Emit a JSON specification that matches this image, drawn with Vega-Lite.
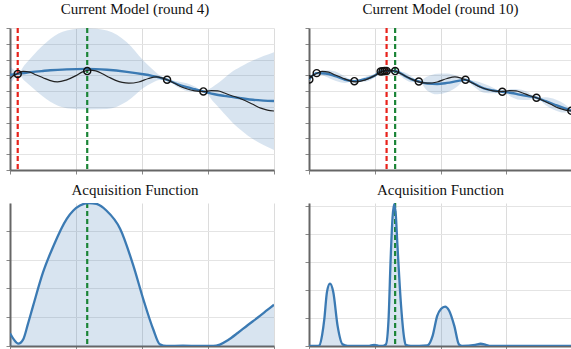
{
  "$schema": "https://vega.github.io/schema/vega-lite/v6.json",
  "background": "white",
  "padding": {"left": 5, "top": 1, "right": 0, "bottom": 0},
  "config": {
    "view": {"stroke": null},
    "axis": {"labels": false, "title": null, "tickSize": 4, "domainColor": "#666", "domainWidth": 2, "tickColor": "#888", "grid": true},
    "axisX": {"gridColor": "#dcdcdc"},
    "axisY": {"gridColor": "#e4e4e4"},
    "title": {"font": "Liberation Serif", "fontSize": 15, "fontWeight": "normal", "color": "#111"},
    "style": {"group-title": {"font": "Liberation Serif", "fontSize": 15, "fontWeight": "normal", "fill": "#111"}}
  },
  "datasets": {
    "truth": [
      {"x":0,"y":5.80},{"x":0.06,"y":6.0},{"x":0.117,"y":6.12},{"x":0.2,"y":6.25},{"x":0.3,"y":6.2},{"x":0.4,"y":6.02},{"x":0.5,"y":5.85},{"x":0.6,"y":5.68},{"x":0.72,"y":5.58},{"x":0.85,"y":5.7},{"x":1.0,"y":5.98},{"x":1.1,"y":6.22},{"x":1.2,"y":6.33},{"x":1.3,"y":6.28},{"x":1.4,"y":6.1},{"x":1.5,"y":5.88},{"x":1.6,"y":5.68},{"x":1.7,"y":5.55},{"x":1.8,"y":5.5},{"x":1.95,"y":5.58},{"x":2.1,"y":5.8},{"x":2.22,"y":5.9},{"x":2.3,"y":5.84},{"x":2.38,"y":5.72},{"x":2.5,"y":5.48},{"x":2.6,"y":5.26},{"x":2.7,"y":5.12},{"x":2.8,"y":5.02},{"x":2.93,"y":4.97},{"x":3.05,"y":5.03},{"x":3.15,"y":5.02},{"x":3.25,"y":4.88},{"x":3.35,"y":4.72},{"x":3.46,"y":4.58},{"x":3.55,"y":4.42},{"x":3.67,"y":4.18},{"x":3.8,"y":3.92},{"x":3.9,"y":3.8},{"x":4.0,"y":3.74}
    ],
    "band4": [
      {"x":0,"mean":6.03,"lo":5.48,"hi":6.58},{"x":0.06,"mean":6.06,"lo":5.78,"hi":6.34},{"x":0.117,"mean":6.09,"lo":6.07,"hi":6.11},{"x":0.22,"mean":6.15,"lo":5.65,"hi":6.65},{"x":0.35,"mean":6.22,"lo":5.18,"hi":7.26},{"x":0.48,"mean":6.27,"lo":4.72,"hi":7.82},{"x":0.61,"mean":6.32,"lo":4.33,"hi":8.31},{"x":0.86,"mean":6.38,"lo":3.92,"hi":8.84},{"x":1.16,"mean":6.41,"lo":3.83,"hi":8.99},{"x":1.47,"mean":6.35,"lo":3.86,"hi":8.84},{"x":1.77,"mean":6.22,"lo":4.34,"hi":8.10},{"x":2.02,"mean":6.07,"lo":5.20,"hi":6.94},{"x":2.15,"mean":5.97,"lo":5.52,"hi":6.42},{"x":2.27,"mean":5.85,"lo":5.71,"hi":5.99},{"x":2.38,"mean":5.72,"lo":5.70,"hi":5.74},{"x":2.53,"mean":5.45,"lo":5.27,"hi":5.63},{"x":2.68,"mean":5.25,"lo":5.00,"hi":5.50},{"x":2.8,"mean":5.12,"lo":4.94,"hi":5.30},{"x":2.93,"mean":4.98,"lo":4.96,"hi":5.00},{"x":3.1,"mean":4.80,"lo":4.24,"hi":5.36},{"x":3.24,"mean":4.70,"lo":3.60,"hi":5.80},{"x":3.38,"mean":4.62,"lo":2.97,"hi":6.27},{"x":3.53,"mean":4.53,"lo":2.43,"hi":6.63},{"x":3.68,"mean":4.45,"lo":1.96,"hi":6.94},{"x":3.84,"mean":4.40,"lo":1.58,"hi":7.22},{"x":4.0,"mean":4.37,"lo":1.27,"hi":7.47}
    ],
    "band10": [
      {"x":0,"mean":5.74,"lo":5.68,"hi":5.80},{"x":0.117,"mean":6.14,"lo":6.13,"hi":6.15},{"x":0.25,"mean":6.12,"lo":5.92,"hi":6.32},{"x":0.4,"mean":5.95,"lo":5.65,"hi":6.25},{"x":0.55,"mean":5.72,"lo":5.52,"hi":5.92},{"x":0.69,"mean":5.63,"lo":5.62,"hi":5.64},{"x":0.85,"mean":5.75,"lo":5.60,"hi":5.90},{"x":1.0,"mean":5.98,"lo":5.88,"hi":6.08},{"x":1.09,"mean":6.24,"lo":6.23,"hi":6.25},{"x":1.18,"mean":6.28,"lo":6.27,"hi":6.29},{"x":1.31,"mean":6.27,"lo":6.26,"hi":6.28},{"x":1.45,"mean":5.98,"lo":5.76,"hi":6.20},{"x":1.55,"mean":5.76,"lo":5.56,"hi":5.96},{"x":1.67,"mean":5.61,"lo":5.60,"hi":5.62},{"x":1.8,"mean":5.48,"lo":5.03,"hi":5.93},{"x":1.95,"mean":5.45,"lo":4.80,"hi":6.10},{"x":2.1,"mean":5.52,"lo":4.92,"hi":6.12},{"x":2.25,"mean":5.63,"lo":5.28,"hi":5.98},{"x":2.38,"mean":5.72,"lo":5.71,"hi":5.73},{"x":2.52,"mean":5.45,"lo":5.25,"hi":5.65},{"x":2.66,"mean":5.18,"lo":4.90,"hi":5.46},{"x":2.8,"mean":5.04,"lo":4.86,"hi":5.22},{"x":2.94,"mean":4.96,"lo":4.95,"hi":4.97},{"x":3.08,"mean":4.88,"lo":4.63,"hi":5.13},{"x":3.2,"mean":4.78,"lo":4.45,"hi":5.11},{"x":3.33,"mean":4.68,"lo":4.43,"hi":4.93},{"x":3.46,"mean":4.58,"lo":4.57,"hi":4.59},{"x":3.6,"mean":4.36,"lo":4.11,"hi":4.61},{"x":3.75,"mean":4.12,"lo":3.77,"hi":4.47},{"x":3.88,"mean":3.92,"lo":3.64,"hi":4.20},{"x":4.0,"mean":3.75,"lo":3.70,"hi":3.80}
    ],
    "obs4": [
      {"x":0.117,"y":6.09},{"x":1.17,"y":6.27},{"x":2.38,"y":5.72},{"x":2.93,"y":4.98}
    ],
    "obs10": [
      {"x":0.005,"y":5.74},{"x":0.117,"y":6.14},{"x":0.69,"y":5.63},{"x":1.09,"y":6.24},{"x":1.12,"y":6.26},{"x":1.15,"y":6.28},{"x":1.18,"y":6.28},{"x":1.31,"y":6.27},{"x":1.67,"y":5.61},{"x":2.38,"y":5.72},{"x":2.94,"y":4.96},{"x":3.46,"y":4.58},{"x":3.99,"y":3.75}
    ],
    "rules4": [{"x":0.117,"k":"last"},{"x":1.17,"k":"next"}],
    "rules10": [{"x":1.18,"k":"last"},{"x":1.31,"k":"next"}],
    "acq4": [
      {"x":0,"a":0.44},{"x":0.06,"a":0.22},{"x":0.126,"a":0.08},{"x":0.2,"a":0.23},{"x":0.27,"a":0.75},{"x":0.35,"a":1.39},{"x":0.5,"a":2.55},{"x":0.66,"a":3.48},{"x":0.86,"a":4.41},{"x":0.96,"a":4.70},{"x":1.06,"a":4.87},{"x":1.19,"a":4.96},{"x":1.31,"a":4.93},{"x":1.46,"a":4.70},{"x":1.67,"a":4.06},{"x":1.87,"a":2.78},{"x":2.02,"a":1.62},{"x":2.17,"a":0.58},{"x":2.27,"a":0.06},{"x":2.37,"a":0.0},{"x":2.62,"a":0.015},{"x":2.88,"a":0.0},{"x":3.08,"a":0.0},{"x":3.18,"a":0.05},{"x":3.3,"a":0.2},{"x":3.45,"a":0.45},{"x":3.6,"a":0.72},{"x":3.75,"a":0.98},{"x":3.9,"a":1.25},{"x":4.0,"a":1.43}
    ],
    "acq10": [
      {"x":0,"a":0},{"x":0.12,"a":0},{"x":0.157,"a":0.02},{"x":0.2,"a":0.4},{"x":0.233,"a":0.96},{"x":0.273,"a":1.93},{"x":0.319,"a":2.23},{"x":0.369,"a":1.93},{"x":0.435,"a":0.72},{"x":0.511,"a":0.06},{"x":0.587,"a":0},{"x":0.9,"a":0},{"x":0.99,"a":0.04},{"x":1.08,"a":0},{"x":1.12,"a":0},{"x":1.17,"a":0.06},{"x":1.21,"a":0.96},{"x":1.24,"a":3.0},{"x":1.27,"a":4.58},{"x":1.295,"a":5.08},{"x":1.32,"a":4.7},{"x":1.345,"a":3.61},{"x":1.4,"a":1.45},{"x":1.45,"a":0.24},{"x":1.47,"a":0.04},{"x":1.55,"a":0},{"x":1.8,"a":0.02},{"x":1.88,"a":0.36},{"x":1.95,"a":1.08},{"x":2.01,"a":1.33},{"x":2.07,"a":1.41},{"x":2.13,"a":1.27},{"x":2.21,"a":0.72},{"x":2.28,"a":0.06},{"x":2.33,"a":0},{"x":2.53,"a":0.04},{"x":2.61,"a":0.08},{"x":2.69,"a":0.04},{"x":2.76,"a":0},{"x":4.0,"a":0}
    ]
  },
  "spacing": 7,
  "vconcat": [
    {
      "spacing": 29,
      "hconcat": [
        {
          "width": 264, "height": 142,
          "title": {"text": "Current Model (round 4)", "dx": -7, "font": "Liberation Serif", "fontSize": 15, "fontWeight": "normal", "color": "#111", "offset": 10},
          "layer": [
            {"data": {"name": "band4"}, "mark": {"type": "area", "interpolate": "monotone", "color": "#3b7ab3", "opacity": 0.2, "clip": true},
             "encoding": {"x": {"field": "x", "type": "quantitative", "scale": {"domain": [0, 4], "nice": false}, "axis": {"title": null, "values": [0,1,2,3,4]}},
                          "y": {"field": "lo", "type": "quantitative", "scale": {"domain": [0, 9], "nice": false}, "axis": {"title": null, "values": [0,1,2,3,4,5,6,7,8,9]}},
                          "y2": {"field": "hi"}}},
            {"data": {"name": "rules4"}, "mark": {"type": "rule", "strokeDash": [5, 3], "strokeWidth": 2.2},
             "encoding": {"x": {"field": "x", "type": "quantitative", "axis": {"title": null, "values": [0,1,2,3,4]}},
                          "color": {"field": "k", "type": "nominal", "scale": {"domain": ["last", "next"], "range": ["#e8221b", "#1a8436"]}, "legend": null}}},
            {"data": {"name": "band4"}, "mark": {"type": "line", "interpolate": "monotone", "color": "#3b7ab3", "strokeWidth": 2.4, "clip": true},
             "encoding": {"x": {"field": "x", "type": "quantitative", "axis": {"title": null, "values": [0,1,2,3,4]}}, "y": {"field": "mean", "type": "quantitative", "axis": {"title": null, "values": [0,1,2,3,4,5,6,7,8,9]}}}},
            {"data": {"name": "truth"}, "mark": {"type": "line", "interpolate": "monotone", "color": "#222", "strokeWidth": 1.2, "clip": true},
             "encoding": {"x": {"field": "x", "type": "quantitative", "axis": {"title": null, "values": [0,1,2,3,4]}}, "y": {"field": "y", "type": "quantitative", "axis": {"title": null, "values": [0,1,2,3,4,5,6,7,8,9]}}}},
            {"data": {"name": "obs4"}, "mark": {"type": "point", "shape": "circle", "filled": false, "color": "#111", "size": 50, "strokeWidth": 1.4, "opacity": 1, "clip": true},
             "encoding": {"x": {"field": "x", "type": "quantitative", "axis": {"title": null, "values": [0,1,2,3,4]}}, "y": {"field": "y", "type": "quantitative", "axis": {"title": null, "values": [0,1,2,3,4,5,6,7,8,9]}}}}
          ]
        },
        {
          "width": 263, "height": 142,
          "title": {"text": "Current Model (round 10)", "font": "Liberation Serif", "fontSize": 15, "fontWeight": "normal", "color": "#111", "offset": 10},
          "layer": [
            {"data": {"name": "band10"}, "mark": {"type": "area", "interpolate": "monotone", "color": "#3b7ab3", "opacity": 0.2, "clip": true},
             "encoding": {"x": {"field": "x", "type": "quantitative", "scale": {"domain": [0, 4], "nice": false}, "axis": {"title": null, "values": [0,1,2,3,4]}},
                          "y": {"field": "lo", "type": "quantitative", "scale": {"domain": [0, 9], "nice": false}, "axis": {"title": null, "values": [0,1,2,3,4,5,6,7,8,9]}},
                          "y2": {"field": "hi"}}},
            {"data": {"name": "rules10"}, "mark": {"type": "rule", "strokeDash": [5, 3], "strokeWidth": 2.2},
             "encoding": {"x": {"field": "x", "type": "quantitative", "axis": {"title": null, "values": [0,1,2,3,4]}},
                          "color": {"field": "k", "type": "nominal", "scale": {"domain": ["last", "next"], "range": ["#e8221b", "#1a8436"]}, "legend": null}}},
            {"data": {"name": "band10"}, "mark": {"type": "line", "interpolate": "monotone", "color": "#3b7ab3", "strokeWidth": 2.4, "clip": true},
             "encoding": {"x": {"field": "x", "type": "quantitative", "axis": {"title": null, "values": [0,1,2,3,4]}}, "y": {"field": "mean", "type": "quantitative", "axis": {"title": null, "values": [0,1,2,3,4,5,6,7,8,9]}}}},
            {"data": {"name": "truth"}, "mark": {"type": "line", "interpolate": "monotone", "color": "#222", "strokeWidth": 1.2, "clip": true},
             "encoding": {"x": {"field": "x", "type": "quantitative", "axis": {"title": null, "values": [0,1,2,3,4]}}, "y": {"field": "y", "type": "quantitative", "axis": {"title": null, "values": [0,1,2,3,4,5,6,7,8,9]}}}},
            {"data": {"name": "obs10"}, "mark": {"type": "point", "shape": "circle", "filled": false, "color": "#111", "size": 50, "strokeWidth": 1.4, "opacity": 1, "clip": true},
             "encoding": {"x": {"field": "x", "type": "quantitative", "axis": {"title": null, "values": [0,1,2,3,4]}}, "y": {"field": "y", "type": "quantitative", "axis": {"title": null, "values": [0,1,2,3,4,5,6,7,8,9]}}}}
          ]
        }
      ]
    },
    {
      "spacing": 29,
      "hconcat": [
        {
          "width": 264, "height": 143,
          "title": {"text": "Acquisition Function", "dx": -7, "font": "Liberation Serif", "fontSize": 15, "fontWeight": "normal", "color": "#111", "offset": 4},
          "layer": [
            {"data": {"name": "acq4"}, "mark": {"type": "area", "interpolate": "monotone", "color": "#3b7ab3", "opacity": 0.2, "clip": true},
             "encoding": {"x": {"field": "x", "type": "quantitative", "scale": {"domain": [0, 4], "nice": false}, "axis": {"title": null, "values": [0,1,2,3,4]}},
                          "y": {"field": "a", "type": "quantitative", "scale": {"domain": [0, 4.96], "nice": false}, "axis": {"title": null, "values": [0,1,2,3,4]}}}},
            {"data": {"name": "rules4"}, "transform": [{"filter": "datum.k == 'next'"}], "mark": {"type": "rule", "strokeDash": [5, 3], "strokeWidth": 2.2},
             "encoding": {"x": {"field": "x", "type": "quantitative", "axis": {"title": null, "values": [0,1,2,3,4]}},
                          "color": {"field": "k", "type": "nominal", "scale": {"domain": ["last", "next"], "range": ["#e8221b", "#1a8436"]}, "legend": null}}},
            {"data": {"name": "acq4"}, "mark": {"type": "line", "interpolate": "monotone", "color": "#3b7ab3", "strokeWidth": 2.3, "clip": true},
             "encoding": {"x": {"field": "x", "type": "quantitative", "axis": {"title": null, "values": [0,1,2,3,4]}}, "y": {"field": "a", "type": "quantitative", "axis": {"title": null, "values": [0,1,2,3,4]}}}}
          ]
        },
        {
          "width": 263, "height": 143,
          "title": {"text": "Acquisition Function", "font": "Liberation Serif", "fontSize": 15, "fontWeight": "normal", "color": "#111", "offset": 4},
          "layer": [
            {"data": {"name": "acq10"}, "mark": {"type": "area", "interpolate": "monotone", "color": "#3b7ab3", "opacity": 0.2, "clip": true},
             "encoding": {"x": {"field": "x", "type": "quantitative", "scale": {"domain": [0, 4], "nice": false}, "axis": {"title": null, "values": [0,1,2,3,4]}},
                          "y": {"field": "a", "type": "quantitative", "scale": {"domain": [0, 5.12], "nice": false}, "axis": {"title": null, "values": [0,1,2,3,4,5]}}}},
            {"data": {"name": "rules10"}, "transform": [{"filter": "datum.k == 'next'"}], "mark": {"type": "rule", "strokeDash": [5, 3], "strokeWidth": 2.2},
             "encoding": {"x": {"field": "x", "type": "quantitative", "axis": {"title": null, "values": [0,1,2,3,4]}},
                          "color": {"field": "k", "type": "nominal", "scale": {"domain": ["last", "next"], "range": ["#e8221b", "#1a8436"]}, "legend": null}}},
            {"data": {"name": "acq10"}, "mark": {"type": "line", "interpolate": "monotone", "color": "#3b7ab3", "strokeWidth": 2.3, "clip": true},
             "encoding": {"x": {"field": "x", "type": "quantitative", "axis": {"title": null, "values": [0,1,2,3,4]}}, "y": {"field": "a", "type": "quantitative", "axis": {"title": null, "values": [0,1,2,3,4,5]}}}}
          ]
        }
      ]
    }
  ]
}
